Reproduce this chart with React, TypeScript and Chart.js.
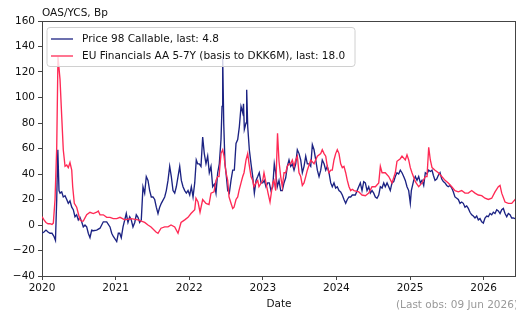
import React, { useEffect, useRef } from 'react';
import { Chart, registerables } from 'chart.js';

Chart.register(...registerables);

const chartTitle = 'OAS/YCS, Bp';
const xAxisTitle = 'Date';
const footNote = '(Last obs: 09 Jun 2026)';
const seriesLabels = ['Price 98 Callable, last: 4.8', 'EU Financials AA 5-7Y (basis to DKK6M), last: 18.0'];
const seriesColors = ['#1c2383', '#ff2a55'];
const yTicks = [-40, -20, 0, 20, 40, 60, 80, 100, 120, 140, 160];
const xTicks = [2020, 2021, 2022, 2023, 2024, 2025, 2026];
const xRange = [2020, 2026.44];

// EU Financials AA 5-7Y (basis to DKK6M)
const redYears = [
  2020.000, 2020.027, 2020.054, 2020.082, 2020.109, 2020.136, 2020.154, 2020.177, 2020.200, 2020.217,
  2020.245, 2020.268, 2020.289, 2020.313, 2020.336, 2020.357, 2020.380, 2020.404, 2020.417, 2020.439,
  2020.471, 2020.493, 2020.516, 2020.539, 2020.561, 2020.607, 2020.652, 2020.697, 2020.743, 2020.765,
  2020.788, 2020.833, 2020.879, 2020.924, 2020.969, 2021.015, 2021.060, 2021.124, 2021.209, 2021.304,
  2021.395, 2021.440, 2021.481, 2021.549, 2021.576, 2021.617, 2021.667, 2021.712, 2021.753, 2021.803,
  2021.848, 2021.889, 2021.939, 2021.984, 2022.024, 2022.075, 2022.092, 2022.120, 2022.147, 2022.183,
  2022.228, 2022.269, 2022.296, 2022.337, 2022.364, 2022.387, 2022.405, 2022.432, 2022.455, 2022.473,
  2022.500, 2022.523, 2022.541, 2022.568, 2022.591, 2022.609, 2022.636, 2022.659, 2022.677, 2022.704,
  2022.727, 2022.745, 2022.772, 2022.795, 2022.813, 2022.840, 2022.863, 2022.880, 2022.908, 2022.931,
  2022.948, 2022.999, 2023.016, 2023.043, 2023.071, 2023.098, 2023.135, 2023.152, 2023.175, 2023.200,
  2023.220, 2023.243, 2023.265, 2023.288, 2023.311, 2023.333, 2023.356, 2023.379, 2023.401, 2023.424,
  2023.447, 2023.469, 2023.492, 2023.515, 2023.537, 2023.560, 2023.583, 2023.605, 2023.651, 2023.696,
  2023.741, 2023.787, 2023.808, 2023.832, 2023.855, 2023.876, 2023.899, 2023.923, 2023.944, 2023.967,
  2023.990, 2024.012, 2024.035, 2024.058, 2024.080, 2024.103, 2024.126, 2024.148, 2024.171, 2024.194,
  2024.216, 2024.239, 2024.303, 2024.348, 2024.393, 2024.439, 2024.484, 2024.529, 2024.575, 2024.597,
  2024.620, 2024.664, 2024.711, 2024.755, 2024.800, 2024.823, 2024.868, 2024.891, 2024.936, 2024.959,
  2024.982, 2025.004, 2025.027, 2025.072, 2025.118, 2025.163, 2025.208, 2025.231, 2025.254, 2025.276,
  2025.299, 2025.340, 2025.385, 2025.431, 2025.476, 2025.520, 2025.567, 2025.611, 2025.656, 2025.702,
  2025.747, 2025.792, 2025.838, 2025.883, 2025.928, 2025.974, 2026.019, 2026.064, 2026.110, 2026.155,
  2026.200, 2026.223, 2026.246, 2026.291, 2026.336, 2026.382, 2026.427, 2026.440,
];
const redValues = [
  6.5, 4, 2, 1, 1, 0.5, 1.5, 20, 61, 132,
  114, 85, 59, 46, 47, 45, 49, 43, 30, 17,
  14, 9, 4, 3, 3, 8, 10, 9, 10, 11,
  8, 8, 6, 6, 5, 5, 6, 4, 5, 4,
  2, 0, -1.5, -5.5, -6.5, -2.5, -1.5, -1.5, 0, -1.5,
  -6.5, 2, 4, 6, 9, 12, 21, 18, 10, 20,
  17, 16, 25, 26, 35, 38, 38, 56, 59, 54,
  41, 35, 22, 17, 13, 14, 20, 22, 27, 33,
  38, 41, 51, 56, 48, 38, 35, 30, 33, 35,
  30, 35, 41, 33, 25, 18, 33, 35, 27, 72,
  50, 38, 30, 41, 41, 46, 48, 48, 51, 46,
  51, 54, 41, 38, 31, 33, 38, 43, 51, 48,
  54, 56, 59, 56, 54, 46, 41, 43, 43, 51,
  56, 59, 56, 48, 45, 46, 41, 35, 30, 27,
  28, 27, 26, 23.5, 23, 25, 30, 30, 33, 46,
  41, 41, 38, 33, 41, 50, 52, 54, 51, 55,
  51, 45, 41, 34, 30, 33, 38, 38, 61, 51,
  45, 43, 41, 38, 35, 33, 30, 27, 26, 27,
  25, 25, 27, 25, 23.5, 23, 21, 20, 21, 26,
  30, 31, 25, 18, 17, 17, 20, 18,
];

// Price 98 Callable
const blueYears = [
  2020.000, 2020.027, 2020.054, 2020.082, 2020.109, 2020.136, 2020.163, 2020.183, 2020.200, 2020.215,
  2020.231, 2020.245, 2020.268, 2020.289, 2020.313, 2020.336, 2020.357, 2020.380, 2020.404, 2020.425,
  2020.448, 2020.471, 2020.493, 2020.516, 2020.539, 2020.561, 2020.584, 2020.607, 2020.629, 2020.652,
  2020.675, 2020.697, 2020.743, 2020.788, 2020.833, 2020.879, 2020.924, 2020.947, 2020.969, 2021.015,
  2021.037, 2021.056, 2021.077, 2021.101, 2021.124, 2021.145, 2021.168, 2021.192, 2021.213, 2021.236,
  2021.260, 2021.281, 2021.304, 2021.327, 2021.349, 2021.372, 2021.395, 2021.417, 2021.440, 2021.463,
  2021.485, 2021.508, 2021.531, 2021.553, 2021.576, 2021.599, 2021.621, 2021.667, 2021.689, 2021.712,
  2021.735, 2021.757, 2021.780, 2021.803, 2021.825, 2021.871, 2021.893, 2021.916, 2021.939, 2021.961,
  2021.984, 2022.007, 2022.029, 2022.052, 2022.075, 2022.096, 2022.115, 2022.137, 2022.160, 2022.183,
  2022.205, 2022.228, 2022.251, 2022.273, 2022.296, 2022.319, 2022.341, 2022.364, 2022.387, 2022.409,
  2022.432, 2022.446, 2022.455, 2022.469, 2022.486, 2022.500, 2022.523, 2022.545, 2022.568, 2022.591,
  2022.613, 2022.636, 2022.659, 2022.681, 2022.704, 2022.727, 2022.738, 2022.749, 2022.772, 2022.781,
  2022.795, 2022.817, 2022.840, 2022.863, 2022.885, 2022.908, 2022.931, 2022.952, 2022.976, 2022.999,
  2023.020, 2023.043, 2023.066, 2023.088, 2023.111, 2023.135, 2023.156, 2023.175, 2023.197, 2023.220,
  2023.243, 2023.265, 2023.288, 2023.311, 2023.333, 2023.356, 2023.379, 2023.401, 2023.424, 2023.447,
  2023.469, 2023.492, 2023.515, 2023.537, 2023.560, 2023.583, 2023.605, 2023.628, 2023.651, 2023.673,
  2023.696, 2023.719, 2023.741, 2023.764, 2023.787, 2023.808, 2023.832, 2023.855, 2023.876, 2023.899,
  2023.923, 2023.944, 2023.967, 2023.990, 2024.012, 2024.035, 2024.058, 2024.080, 2024.103, 2024.126,
  2024.148, 2024.171, 2024.194, 2024.216, 2024.257, 2024.303, 2024.325, 2024.348, 2024.371, 2024.393,
  2024.416, 2024.439, 2024.461, 2024.484, 2024.507, 2024.529, 2024.552, 2024.575, 2024.597, 2024.620,
  2024.643, 2024.664, 2024.688, 2024.711, 2024.732, 2024.755, 2024.779, 2024.800, 2024.823, 2024.846,
  2024.868, 2024.891, 2024.914, 2024.936, 2024.959, 2024.982, 2025.004, 2025.018, 2025.050, 2025.072,
  2025.095, 2025.118, 2025.141, 2025.163, 2025.186, 2025.208, 2025.231, 2025.254, 2025.276, 2025.299,
  2025.317, 2025.340, 2025.363, 2025.385, 2025.408, 2025.431, 2025.453, 2025.476, 2025.499, 2025.520,
  2025.543, 2025.567, 2025.588, 2025.611, 2025.635, 2025.656, 2025.679, 2025.702, 2025.724, 2025.747,
  2025.770, 2025.792, 2025.815, 2025.838, 2025.860, 2025.883, 2025.906, 2025.928, 2025.951, 2025.974,
  2025.996, 2026.019, 2026.042, 2026.064, 2026.087, 2026.110, 2026.132, 2026.155, 2026.178, 2026.200,
  2026.223, 2026.246, 2026.268, 2026.291, 2026.314, 2026.336, 2026.359, 2026.382, 2026.403, 2026.427,
  2026.440,
];
const blueValues = [
  -6.5, -5.5, -4, -5.5, -6.5, -6.5, -9, -12, 20, 59,
  27, 25, 26, 22, 23, 20, 17, 19, 14, 12,
  6.5, 8, 4, 6, 2.5, -1.5, 0, -1.5, -6.5, -10,
  -4, -4.5, -4, -2.5, 2.5, 2.5, -1.5, -6.5, -9, -13,
  -6.5, -6.5, -10, -1.5, 4, 9, 2, 6.5, 4, -1.5,
  2, 8, 6, 2, 4, 30, 25, 38, 35, 27,
  22, 22, 20, 14, 9, 14, 17, 22, 27, 35,
  46, 38, 27, 25, 30, 46, 35, 30, 27, 25,
  27, 23.5, 30, 22, 33, 51, 48, 48, 46, 69,
  56, 48, 54, 41, 46, 30, 32, 25, 41, 48,
  67, 93, 132, 80, 48, 41, 27, 25, 35, 43,
  43, 64, 67, 77, 93, 88, 95, 75, 80, 106,
  77, 59, 48, 38, 25, 35, 38, 41, 33, 33,
  35, 30, 33, 33, 27, 30, 48, 41, 30, 35,
  27, 27, 33, 37, 46, 51, 46, 48, 43, 48,
  59, 56, 51, 41, 46, 54, 48, 48, 46, 63,
  59, 51, 43, 38, 43, 51, 48, 43, 46, 41,
  33, 30, 33, 29, 30, 27, 26, 23.5, 20, 17,
  20, 22, 22, 23.5, 23.5, 30, 33, 27, 34, 33,
  27, 30, 25, 27, 25, 22, 21, 23.5, 30, 29,
  33, 30, 33, 30, 27, 33, 34, 38, 41, 40,
  43, 41, 38, 35, 30, 27, 17, 27, 35, 38,
  35, 38, 33, 35, 31, 41, 40, 43, 42, 43,
  39, 35, 36, 39, 41, 36, 34, 33, 31, 30,
  31, 29, 26, 22, 21, 20, 17, 18, 17, 14,
  15, 13, 10, 8, 7, 5.5, 7, 4, 5, 2.5,
  1.5, 5.5, 7, 6.5, 9, 8, 10, 9, 12, 11,
  9, 12, 13, 9, 6.5, 9, 8, 5.5, 5.5, 5,
  4.8,
];

const FONT = 'DejaVu Sans';
const FS = 10.5;

const toPoints = (xs: number[], ys: number[]) =>
  xs.slice(0, Math.min(xs.length, ys.length)).map((x, i) => ({ x, y: ys[i] }));

const decorations = {
  id: 'decorations',
  afterDraw(chart: any) {
    const { ctx, chartArea: a } = chart;
    ctx.save();
    // top and right spines
    ctx.strokeStyle = '#444';
    ctx.lineWidth = 1;
    ctx.beginPath();
    ctx.moveTo(a.left, a.top + 0.5);
    ctx.lineTo(a.right, a.top + 0.5);
    ctx.moveTo(a.right - 0.5, a.top);
    ctx.lineTo(a.right - 0.5, a.bottom);
    ctx.stroke();

    ctx.font = `${FS}px "${FONT}"`;
    ctx.textBaseline = 'middle';
    ctx.textAlign = 'left';
    ctx.fillStyle = '#111';
    ctx.fillText(chartTitle, a.left, a.top - 8);

    ctx.fillStyle = '#999';
    ctx.fillText(footNote, 396, 305);

    // legend
    const lx = a.left + 5;
    const ly = a.top + 6.5;
    const lw = 308;
    const lh = 39;
    const r = 3;
    ctx.beginPath();
    ctx.moveTo(lx + r, ly);
    ctx.lineTo(lx + lw - r, ly);
    ctx.arcTo(lx + lw, ly, lx + lw, ly + r, r);
    ctx.lineTo(lx + lw, ly + lh - r);
    ctx.arcTo(lx + lw, ly + lh, lx + lw - r, ly + lh, r);
    ctx.lineTo(lx + r, ly + lh);
    ctx.arcTo(lx, ly + lh, lx, ly + lh - r, r);
    ctx.lineTo(lx, ly + r);
    ctx.arcTo(lx, ly, lx + r, ly, r);
    ctx.closePath();
    ctx.fillStyle = 'rgba(255,255,255,0.8)';
    ctx.fill();
    ctx.strokeStyle = '#d0d0d0';
    ctx.stroke();

    const rows = [a.top + 18, a.top + 35];
    seriesLabels.forEach((label, i) => {
      ctx.strokeStyle = seriesColors[i];
      ctx.lineWidth = 1.3;
      ctx.beginPath();
      ctx.moveTo(a.left + 9, rows[i]);
      ctx.lineTo(a.left + 31, rows[i]);
      ctx.stroke();
      ctx.fillStyle = '#111';
      ctx.fillText(label, a.left + 40, rows[i]);
    });
    ctx.restore();
  },
};

export default function App() {
  const ref = useRef<HTMLCanvasElement | null>(null);

  useEffect(() => {
    document.body.style.margin = '0';
    const canvas = ref.current;
    if (!canvas) return;
    const chart = new Chart(canvas, {
      type: 'line',
      data: {
        datasets: [
          {
            label: seriesLabels[1],
            data: toPoints(redYears, redValues),
            borderColor: seriesColors[1],
            borderWidth: 1.35,
            pointRadius: 0,
            tension: 0,
          },
          {
            label: seriesLabels[0],
            data: toPoints(blueYears, blueValues),
            borderColor: seriesColors[0],
            borderWidth: 1.35,
            pointRadius: 0,
            tension: 0,
          },
        ],
      },
      options: {
        responsive: false,
        animation: false,
        devicePixelRatio: 1,
        layout: { padding: { top: 21, left: 0, right: 0, bottom: 0 } },
        plugins: { legend: { display: false }, tooltip: { enabled: false }, title: { display: false } },
        scales: {
          x: {
            type: 'linear',
            min: xRange[0],
            max: xRange[1],
            afterBuildTicks: (s: any) => {
              s.ticks = xTicks.map((v) => ({ value: v }));
            },
            afterFit: (s: any) => {
              s.height = 38;
            },
            ticks: {
              callback: (v: any) => String(v),
              color: '#111',
              font: { family: FONT, size: FS },
              padding: 2,
              maxRotation: 0,
              autoSkip: false,
            },
            grid: { drawOnChartArea: false, drawTicks: true, tickLength: 4, color: '#444' },
            border: { display: true, color: '#444', width: 1 },
            title: {
              display: true,
              text: xAxisTitle,
              color: '#111',
              font: { family: FONT, size: FS },
              padding: { top: 0, bottom: 3 },
            },
          },
          y: {
            type: 'linear',
            min: yTicks[0],
            max: yTicks[yTicks.length - 1],
            afterBuildTicks: (s: any) => {
              s.ticks = yTicks.map((v) => ({ value: v }));
            },
            afterFit: (s: any) => {
              s.width = 42;
            },
            ticks: {
              callback: (v: any) => (v < 0 ? '\u2212' + String(-v) : String(v)),
              color: '#111',
              font: { family: FONT, size: FS },
              padding: 3,
            },
            grid: { drawOnChartArea: false, drawTicks: true, tickLength: 4, color: '#444' },
            border: { display: true, color: '#444', width: 1 },
          },
        },
      },
      plugins: [decorations],
    });
    return () => chart.destroy();
  }, []);

  return (
    <div style={{ position: 'absolute', left: 0, top: 0, width: 516, height: 314, background: '#fff' }}>
      <canvas ref={ref} width={516} height={314} style={{ width: 516, height: 314, display: 'block' }} />
    </div>
  );
}
